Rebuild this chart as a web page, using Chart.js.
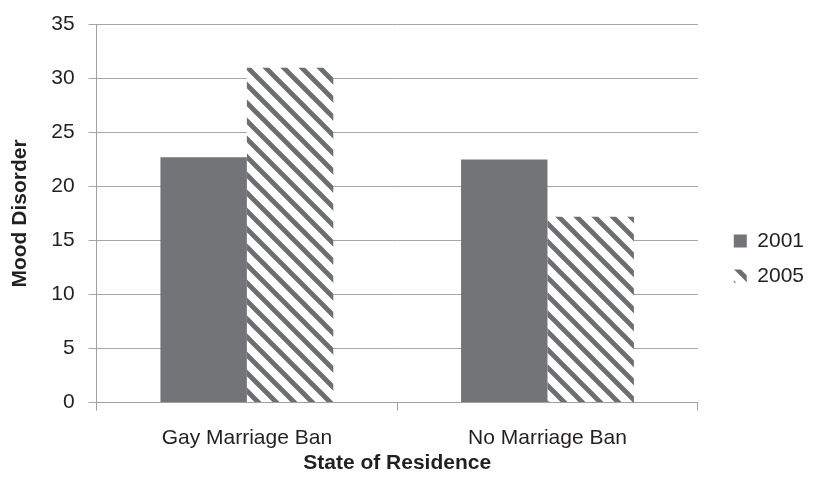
<!DOCTYPE html>
<html>
<head>
<meta charset="utf-8">
<script src="https://cdn.jsdelivr.net/npm/chart.js@4/dist/chart.umd.min.js"></script>
<style>
  html, body { margin: 0; padding: 0; background: #fff; }
  #wrap { width: 816px; height: 480px; }
</style>
</head>
<body>
<div id="wrap"><canvas id="chart" width="816" height="480"></canvas></div>
<script>
// Data
const categories = ['Gay Marriage Ban', 'No Marriage Ban'];
const seriesNames = ['2001', '2005'];
const values2001 = [22.7, 22.5];
const values2005 = [31.0, 17.2];
const yTicks = [0, 5, 10, 15, 20, 25, 30, 35];

// diagonal stripes for 2005
function makeHatch() {
    const s = 18;
    const c = document.createElement('canvas');
    c.width = s; c.height = s;
    const g = c.getContext('2d');
    g.fillStyle = '#ffffff';
    g.fillRect(0, 0, s, s);
    g.strokeStyle = '#6d6e71';
    g.lineWidth = 4.8;
    g.beginPath();
    g.moveTo(-s, -s); g.lineTo(2 * s, 2 * s);
    g.moveTo(-s, 0); g.lineTo(s, 2 * s);
    g.moveTo(0, -s); g.lineTo(2 * s, s);
    g.stroke();
    return g.createPattern(c, 'repeat');
}

// legend sits a bit further from the plot than chart.js puts it
const legendGap = {
    id: 'legendGap',
    afterLayout(chart) {
        chart.legend.left += 22;
        chart.legend.right += 22;
    }
};

const font = 'Liberation Sans, Arial, sans-serif';
const ctx = document.getElementById('chart').getContext('2d');
const hatch = makeHatch();

new Chart(ctx, {
    type: 'bar',
    data: {
        labels: categories,
        datasets: [
            { label: seriesNames[0], data: values2001, backgroundColor: '#737477', borderWidth: 0 },
            { label: seriesNames[1], data: values2005, backgroundColor: hatch, borderWidth: 0 }
        ]
    },
    options: {
        responsive: false,
        animation: false,
        devicePixelRatio: 1,
        layout: { padding: { top: 7, right: 24, left: 8, bottom: 5 } },
        datasets: { bar: { categoryPercentage: 0.575, barPercentage: 1 } },
        scales: {
            x: {
                grid: { offset: true, drawOnChartArea: false, drawTicks: true, tickLength: 8, color: '#a0a0a0', lineWidth: 1 },
                border: { color: '#a0a0a0' },
                ticks: { font: { family: font, size: 21, lineHeight: 1 }, color: '#231f20', padding: 17 },
                title: { display: true, text: 'State of Residence', font: { family: font, size: 21, weight: 'bold', lineHeight: 1 }, color: '#231f20', padding: { top: -13, bottom: 1.5 } }
            },
            y: {
                min: 0,
                max: 35,
                afterBuildTicks: axis => { axis.ticks = yTicks.map(v => ({ value: v })); },
                grid: { color: '#a6a6a6', lineWidth: 1, tickLength: 8 },
                border: { color: '#a0a0a0' },
                ticks: { font: { family: font, size: 21, lineHeight: 1 }, color: '#231f20', padding: 14 },
                title: { display: true, text: 'Mood Disorder', font: { family: font, size: 21, weight: 'bold' }, color: '#231f20', padding: { top: 0, bottom: 4 } }
            }
        },
        plugins: {
            tooltip: { enabled: false },
            legend: {
                position: 'right',
                title: { display: true, text: ' ', padding: { top: 8, bottom: 2 }, font: { size: 21 } },
                labels: {
                    font: { family: font, size: 21 },
                    color: '#231f20',
                    boxWidth: 13,
                    boxHeight: 13,
                    padding: 14
                }
            }
        }
    },
    plugins: [legendGap]
});
</script>
</body>
</html>
